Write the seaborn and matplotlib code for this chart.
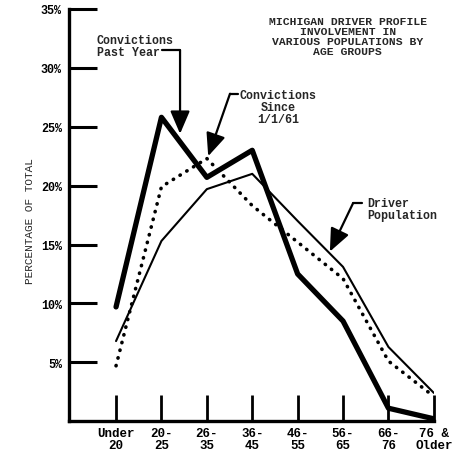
import numpy as np
import pandas as pd
import seaborn as sns
import matplotlib.pyplot as plt

ages = ["Under\n20", "20-\n25", "26-\n35", "36-\n45", "46-\n55", "56-\n65", "66-\n76", "76 &\nOlder"]
past_year = [9.7, 25.8, 20.7, 23.0, 12.5, 8.5, 1.1, 0.2]
since_61 = [4.7, 19.9, 22.3, 18.3, 15.2, 12.1, 5.1, 2.1]
drivers = [6.8, 15.3, 19.7, 21.0, 17.0, 13.1, 6.3, 2.4]
yticks = [5, 10, 15, 20, 25, 30, 35]

df = pd.DataFrame({"age": ages, "past": past_year, "since": since_61, "drivers": drivers})

sns.set_style("white")
plt.rcParams["font.family"] = ["Liberation Mono", "DejaVu Sans"]
plt.rcParams["font.weight"] = "bold"

fig = plt.figure(figsize=(4.65, 4.52), dpi=100)
ax = fig.add_axes([0.148, 0.066, 0.785, 0.912])

sns.lineplot(data=df, x="age", y="past", ax=ax, color="black", lw=3.8, sort=False)
sns.lineplot(data=df, x="age", y="since", ax=ax, color="black", lw=2.6, sort=False,
             linestyle=(0, (0.1, 2.1)), dash_capstyle="round")
sns.lineplot(data=df, x="age", y="drivers", ax=ax, color="black", lw=1.5, sort=False)

ax.set_xlim(-1.04, 7)
ax.set_ylim(0, 35)
ax.set_yticks(yticks)
ax.set_yticklabels([f"{v}%" for v in yticks], fontsize=8.5, fontweight="bold")
ax.set_xticks(range(len(ages)))
ax.set_xticklabels(ages, fontsize=9, fontweight="bold", linespacing=1.0)
ax.tick_params(axis="y", left=True, direction="in", length=20, width=2.2, pad=5, colors="black")
ax.tick_params(axis="x", bottom=True, direction="in", length=19, width=2, pad=4, colors="black")
ax.set_xlabel("")
ax.set_ylabel("")
for s in ["top", "right"]:
    ax.spines[s].set_visible(False)
for s in ["left", "bottom"]:
    ax.spines[s].set_color("black")
    ax.spines[s].set_linewidth(2.4)

fig.text(0.065, 0.51, "PERCENTAGE OF TOTAL", rotation=90, ha="center", va="center",
         fontsize=8, fontweight="normal")
fig.text(0.748, 0.918, "MICHIGAN DRIVER PROFILE\nINVOLVEMENT IN\nVARIOUS POPULATIONS BY\nAGE GROUPS",
         ha="center", va="center", multialignment="center", fontsize=8.2, linespacing=1.0)

ax.text(-0.42, 32.9, "Convictions\nPast Year", ha="left", va="top", fontsize=8.4, linespacing=1.0)
ax.text(3.57, 28.2, "Convictions\nSince\n1/1/61", ha="center", va="top", multialignment="center",
        fontsize=8.4, linespacing=1.0)
ax.text(5.53, 19.0, "Driver\nPopulation", ha="left", va="top", fontsize=8.4, linespacing=1.0)

arrow = dict(arrowstyle="-|>,head_length=0.7,head_width=0.3", mutation_scale=20,
             lw=1.6, color="black", shrinkA=0, shrinkB=0)
ax.plot([1.01, 1.41], [31.5, 31.5], color="black", lw=1.6)
ax.annotate("", xy=(1.41, 24.4), xytext=(1.41, 31.5), arrowprops=arrow)
ax.plot([2.69, 2.51], [27.8, 27.8], color="black", lw=1.6)
ax.annotate("", xy=(2.03, 22.5), xytext=(2.51, 27.8), arrowprops=arrow)
ax.plot([5.42, 5.22], [18.5, 18.5], color="black", lw=1.6)
ax.annotate("", xy=(4.71, 14.4), xytext=(5.22, 18.5), arrowprops=arrow)

fig.savefig("out.png", dpi=100)
